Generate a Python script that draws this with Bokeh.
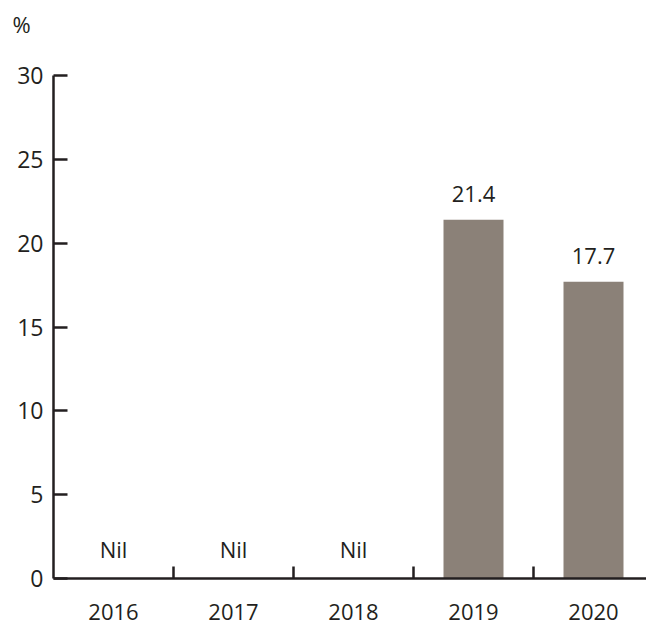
from bokeh.plotting import figure
from bokeh.models import ColumnDataSource, Range1d, FixedTicker
from bokeh.core.properties import value
from bokeh.embed import file_html
from bokeh.resources import INLINE

years = ["2016", "2017", "2018", "2019", "2020"]
values = [0, 0, 0, 21.4, 17.7]
value_labels = ["Nil", "Nil", "Nil", "21.4", "17.7"]
y_ticks = [0, 5, 10, 15, 20, 25, 30]
unit_label = "%"

FONT = "Open Sans"
INK = "#231f20"
BAR = "#8b8178"

xs = [i + 0.5 for i in range(len(years))]
offsets = [-30 if v == 0 else -26 for v in values]

src = ColumnDataSource(dict(x=xs, top=values, lab=value_labels, off=offsets))

p = figure(width=646, height=626, output_backend="svg", toolbar_location=None,
           x_range=Range1d(0, 593 / 120), y_range=Range1d(0, 30),
           min_border_left=53, min_border_right=0, min_border_top=75,
           min_border_bottom=48)
p.outline_line_color = None
p.grid.visible = False
p.background_fill_color = "white"
p.border_fill_color = "white"

# unit label drawn as a left-aligned two-line title so it sits high above the frame
p.title.text = unit_label + "\n "
p.title.align = "left"
p.title.offset = -41
p.title.standoff = 13
p.title.text_font = FONT
p.title.text_font_size = "22px"
p.title.text_font_style = "normal"
p.title.text_color = INK

p.vbar(x="x", top="top", width=0.5, bottom=0, source=src, fill_color=BAR, line_color=None)
p.text(x="x", y="top", text="lab", y_offset="off", source=src,
       text_font=value(FONT), text_font_size="22px", text_color=INK,
       text_align="center", text_baseline="alphabetic")

xa = p.xaxis[0]
xa.ticker = FixedTicker(ticks=xs, minor_ticks=list(range(1, len(years))))
xa.major_label_overrides = {x: y for x, y in zip(xs, years)}
xa.major_tick_in = 0
xa.major_tick_out = 0
xa.minor_tick_in = 12
xa.minor_tick_out = 0
xa.minor_tick_line_color = INK
xa.minor_tick_line_width = 2.5
xa.axis_line_color = INK
xa.axis_line_width = 2.5
xa.major_label_standoff = 25
xa.major_label_text_font = FONT
xa.major_label_text_font_size = "22px"
xa.major_label_text_color = INK

ya = p.yaxis[0]
ya.ticker = FixedTicker(ticks=y_ticks, minor_ticks=[])
ya.major_tick_in = 14
ya.major_tick_out = 0
ya.major_tick_line_color = INK
ya.major_tick_line_width = 2.5
ya.axis_line_color = INK
ya.axis_line_width = 2.5
ya.major_label_standoff = 10
ya.major_label_text_font = FONT
ya.major_label_text_font_size = "23px"
ya.major_label_text_color = INK

open("out.html", "w").write(file_html(p, INLINE))
